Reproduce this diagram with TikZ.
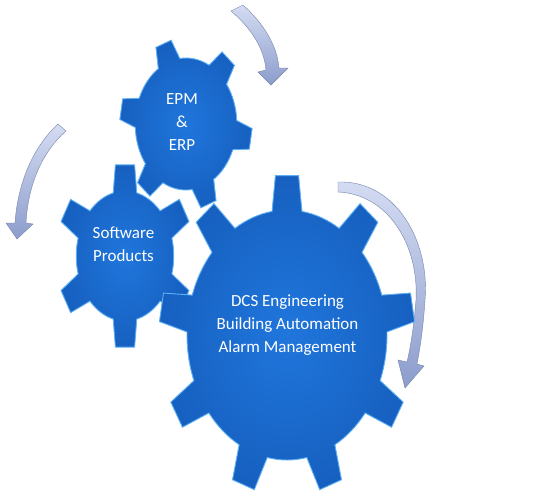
\documentclass[tikz,border=0pt]{standalone}
\usepackage{fontspec}
\setmainfont{Carlito}
\usetikzlibrary{arrows.meta}
\definecolor{gearmid}{RGB}{32,118,220}
\definecolor{gearout}{RGB}{22,96,192}
\definecolor{gearedge}{RGB}{96,176,244}
\definecolor{arrowdark}{RGB}{140,157,204}
\definecolor{arrowlight}{RGB}{212,220,242}
% #1 cx, #2 cy, #3 teeth, #4 phase, #5 tip radius, #6 root radius, #7 tip half angle, #8 base half angle, #9 xscale
\newcommand{\drawgear}[9]{%
  \begin{scope}[shift={(#1,#2)}, xscale=#9, yscale=-1]
    \path[gearfill] ({#4-#8}:#6)
      \foreach \k in {1,...,#3}{
        -- ({#4+(\k-1)*360/#3-#7}:#5) -- ({#4+(\k-1)*360/#3+#7}:#5)
        -- ({#4+(\k-1)*360/#3+#8}:#6)
        arc[start angle={#4+(\k-1)*360/#3+#8}, end angle={#4+\k*360/#3-#8}, radius=#6]
      } -- cycle;
  \end{scope}}
\begin{document}
\begin{tikzpicture}[x=1pt,y=-1pt,
  gearfill/.style={inner color=gearmid, outer color=gearout, draw=gearedge, line width=0.9pt, line join=miter},
  gearlabel/.style={text=white, align=center, font=\fontsize{17}{23.3}\selectfont},
  curvedarrow/.style={top color=arrowlight, bottom color=arrowdark, draw=arrowdark!85!black, line width=0.4pt}]
\useasboundingbox[fill=white] (0,0) rectangle (543,496);

% curved arrows
\path[curvedarrow] (231,11) .. controls (251,28) and (264,48) .. (266,70) -- (258,72) -- (271,85) -- (288,68) -- (279,68) .. controls (277,44) and (262,22) .. (243,5) -- cycle;
\path[curvedarrow] (58,124) .. controls (35,145) and (18,180) .. (15,223) -- (6,223) -- (17,239) -- (33,224) -- (26,223) .. controls (28,185) and (42,152) .. (66,131) -- cycle;
\path[curvedarrow] (338,182) .. controls (395,180) and (430,240) .. (425,300) .. controls (423,330) and (420,348) .. (417,364) -- (424,366) -- (405,388) -- (398,360) -- (407,362) .. controls (411,345) and (414,325) .. (416,300) .. controls (419,245) and (388,194) .. (338,192) -- cycle;

% gears
\drawgear{186}{124}{6}{110}{86}{66}{7}{13}{0.77}
\drawgear{125}{256}{6}{90}{92}{65}{8}{14}{0.75}
\drawgear{287}{335}{9}{90}{160}{125}{5.2}{8.6}{0.8}

% labels
\node[gearlabel] (epm) at (182,122) {EPM\\\&\\ERP};
\node[gearlabel] (sw) at (123.5,244) {Software\\Products};
\node[gearlabel] (dcs) at (287.5,325) {DCS Engineering\\Building Automation\\Alarm Management};
\end{tikzpicture}
\end{document}
